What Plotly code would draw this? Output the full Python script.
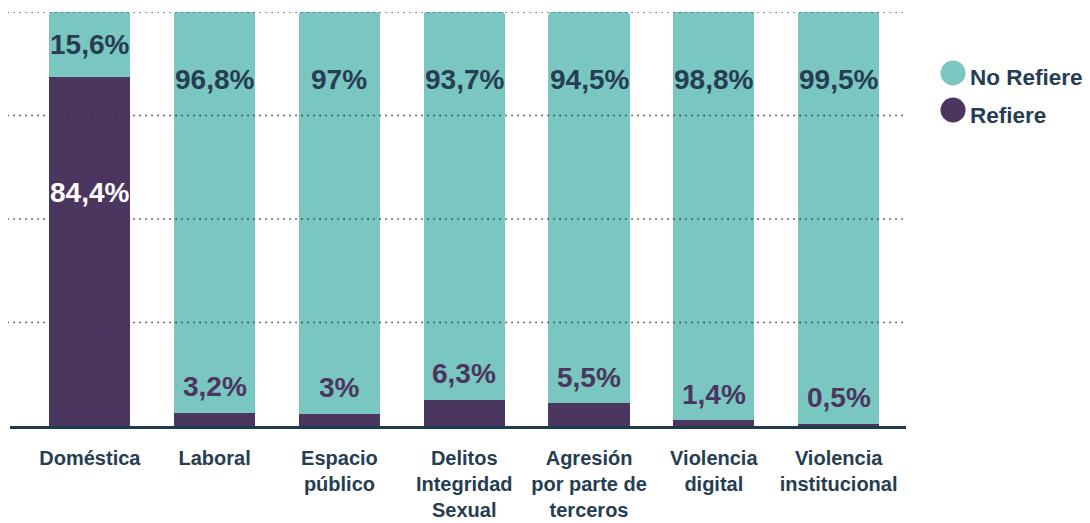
import plotly.graph_objects as go

categories = ["Doméstica", "Laboral", "Espacio<br>público", "Delitos<br>Integridad<br>Sexual",
              "Agresión<br>por parte de<br>terceros", "Violencia<br>digital", "Violencia<br>institucional"]
refiere = [84.4, 3.2, 3.0, 6.3, 5.5, 1.4, 0.5]
no_refiere = [15.6, 96.8, 97.0, 93.7, 94.5, 98.8, 99.5]
refiere_labels = ["84,4%", "3,2%", "3%", "6,3%", "5,5%", "1,4%", "0,5%"]
no_refiere_labels = ["15,6%", "96,8%", "97%", "93,7%", "94,5%", "98,8%", "99,5%"]
series_names = ["No Refiere", "Refiere"]
grid_values = [25, 50, 75, 100]

TEAL = "#7ac6c1"
PURPLE = "#4a365e"
NAVY = "#263d52"
FONT = "Liberation Sans, Arial, sans-serif"

x = list(range(len(categories)))

fig = go.Figure()
fig.add_trace(go.Bar(x=x, y=refiere, name=series_names[1], marker=dict(color=PURPLE, line=dict(width=0)),
                     width=0.65, showlegend=False, hoverinfo="skip"))
fig.add_trace(go.Bar(x=x, y=no_refiere, name=series_names[0], marker=dict(color=TEAL, line=dict(width=0)),
                     width=0.65, showlegend=False, hoverinfo="skip"))

annotations = []
for i in x:
    r = refiere[i]
    # No Refiere label
    ny = max(r + no_refiere[i] / 2, 83.6)
    annotations.append(dict(x=i, y=ny, xref="x", yref="y", text=no_refiere_labels[i], showarrow=False,
                            font=dict(family=FONT, size=28, color=NAVY, weight="bold"), yanchor="middle"))
    # Refiere label
    if r > 50:
        annotations.append(dict(x=i, y=r - 28, xref="x", yref="y", text=refiere_labels[i], showarrow=False,
                                font=dict(family=FONT, size=28, color="white", weight="bold"), yanchor="middle"))
    else:
        annotations.append(dict(x=i, y=r, xref="x", yref="y", text=refiere_labels[i], showarrow=False,
                                font=dict(family=FONT, size=28, color=PURPLE, weight="bold"),
                                yanchor="middle", yshift=26))

shapes = []
for g in grid_values:
    shapes.append(dict(type="line", xref="paper", yref="y", x0=-0.003, x1=1, y0=g, y1=g,
                       line=dict(color="#3a3a3a", width=1.5, dash="1.5px,4.5px"), layer="above"))

# custom legend with circle markers
legend_items = [(series_names[0], TEAL, 0.8527, 0.8406), (series_names[1], PURPLE, 0.7633, 0.7512)]
for name, col, cy, ty in legend_items:
    shapes.append(dict(type="circle", xref="paper", yref="paper", xsizemode="pixel", ysizemode="pixel",
                       xanchor=1.0525, yanchor=cy, x0=-12.5, x1=12.5, y0=-12.5, y1=12.5,
                       fillcolor=col, line=dict(width=0)))
    annotations.append(dict(x=1.0692, y=ty, xref="paper", yref="paper", text=name, showarrow=False,
                            xanchor="left", yanchor="middle",
                            font=dict(family=FONT, size=22.5, color=NAVY, weight="bold")))

fig.update_layout(
    barmode="stack",
    barcornerradius=3,
    width=1082, height=515,
    margin=dict(l=2, r=184, t=4, b=97, autoexpand=False),
    plot_bgcolor="white", paper_bgcolor="white",
    showlegend=False,
    annotations=annotations,
    shapes=shapes,
    xaxis=dict(tickmode="array", tickvals=x, ticktext=categories, range=[-0.64, 6.54],
               showgrid=False, zeroline=False, showline=True, linecolor="#1f3a4d", linewidth=2.5,
               ticks="", ticklabelstandoff=12, automargin=False,
               tickfont=dict(family=FONT, size=20, color=NAVY, weight="bold")),
    yaxis=dict(range=[0, 100], showgrid=False, zeroline=False, showticklabels=False, showline=False,
               automargin=False),
)

fig.write_html("out.html")
